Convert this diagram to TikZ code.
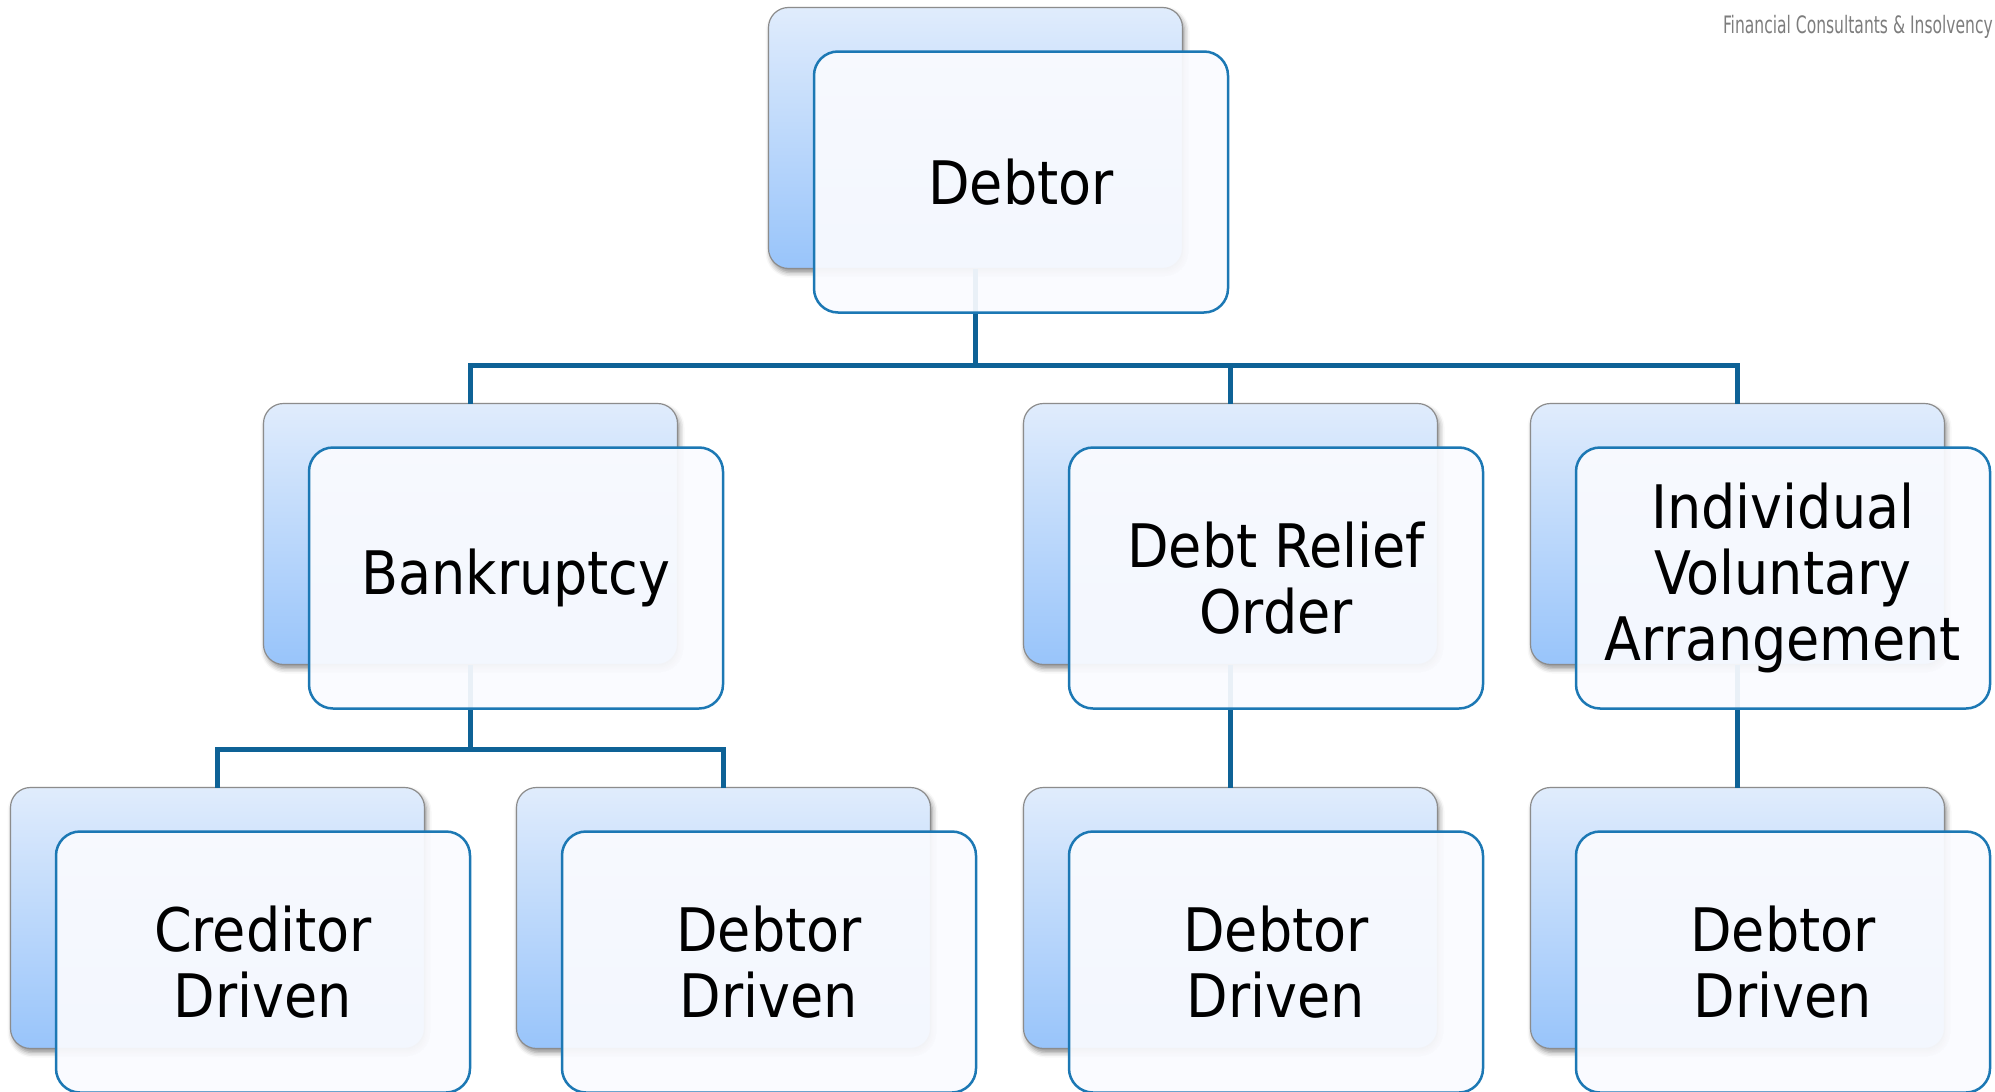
\documentclass[tikz,border=0pt]{standalone}
\usepackage{fontspec}
\usepackage{graphicx}
\setmainfont{DejaVu Sans Condensed}
\usetikzlibrary{shadows.blur}
\definecolor{backtop}{RGB}{224,236,252}
\definecolor{backbot}{RGB}{152,196,250}
\definecolor{backline}{RGB}{140,140,140}
\definecolor{frontfill}{RGB}{250,251,255}
\definecolor{frontline}{RGB}{28,120,180}
\definecolor{connline}{RGB}{14,98,150}
\definecolor{tagline}{RGB}{125,125,125}
\tikzset{
  backbox/.style={rectangle, rounded corners=20pt, draw=backline, line width=1.2pt,
    top color=backtop, bottom color=backbot, minimum width=414pt, minimum height=261pt,
    inner sep=0pt, outer sep=0pt,
    blur shadow={shadow xshift=2pt, shadow yshift=-4pt, shadow blur radius=5pt, shadow opacity=45}},
  frontbox/.style={rectangle, rounded corners=24pt, draw=frontline, line width=2.5pt,
    fill=frontfill, fill opacity=0.93, text opacity=1, minimum width=414pt, minimum height=261pt,
    inner sep=0pt, outer sep=0pt, align=center, font=\fontsize{60}{66}\selectfont},
  conn/.style={draw=connline, line width=5pt},
}
\begin{document}
\begin{tikzpicture}[x=1pt,y=-1pt]
\useasboundingbox (0,0) rectangle (1995,1092);
\clip (0,0) rectangle (1995,1092);
% back boxes
\node[backbox] (debB) at (975.5,138) {};
\node[backbox] (bankB) at (470.5,534) {};
\node[backbox] (droB) at (1230.5,534) {};
\node[backbox] (ivaB) at (1737.5,534) {};
\node[backbox] (credB) at (217.5,918) {};
\node[backbox] (bdebB) at (723.5,918) {};
\node[backbox] (ddebB) at (1230.5,918) {};
\node[backbox] (idebB) at (1737.5,918) {};
% connectors
\coordinate (barA) at (0,365);
\coordinate (barB) at (0,749);
\draw[conn] (debB.south) -- (debB.south |- barA) -| (bankB.north);
\draw[conn] (debB.south |- barA) -| (droB.north);
\draw[conn] (debB.south |- barA) -| (ivaB.north);
\draw[conn] (bankB.south) -- (bankB.south |- barB) -| (credB.north);
\draw[conn] (bankB.south |- barB) -| (bdebB.north);
\draw[conn] (droB.south) -- (ddebB.north);
\draw[conn] (ivaB.south) -- (idebB.north);
% front boxes
\node[frontbox] (debF) at (1021,182) {Debtor};
\node[frontbox] (bankF) at (516,578) {Bankruptcy};
\node[frontbox] (droF) at (1276,578) {Debt Relief\\Order};
\node[frontbox] (ivaF) at (1783,578) {Individual\\Voluntary\\Arrangement};
\node[frontbox] (credF) at (263,962) {Creditor\\Driven};
\node[frontbox] (bdebF) at (769,962) {Debtor\\Driven};
\node[frontbox] (ddebF) at (1276,962) {Debtor\\Driven};
\node[frontbox] (idebF) at (1783,962) {Debtor\\Driven};
% tagline
\node[anchor=base east, inner sep=0pt, text=tagline, font=\fontsize{24}{27}\selectfont] (tag) at (1993,34)
  {\scalebox{0.72}[1]{Financial Consultants \& Insolvency}};
\end{tikzpicture}
\end{document}
